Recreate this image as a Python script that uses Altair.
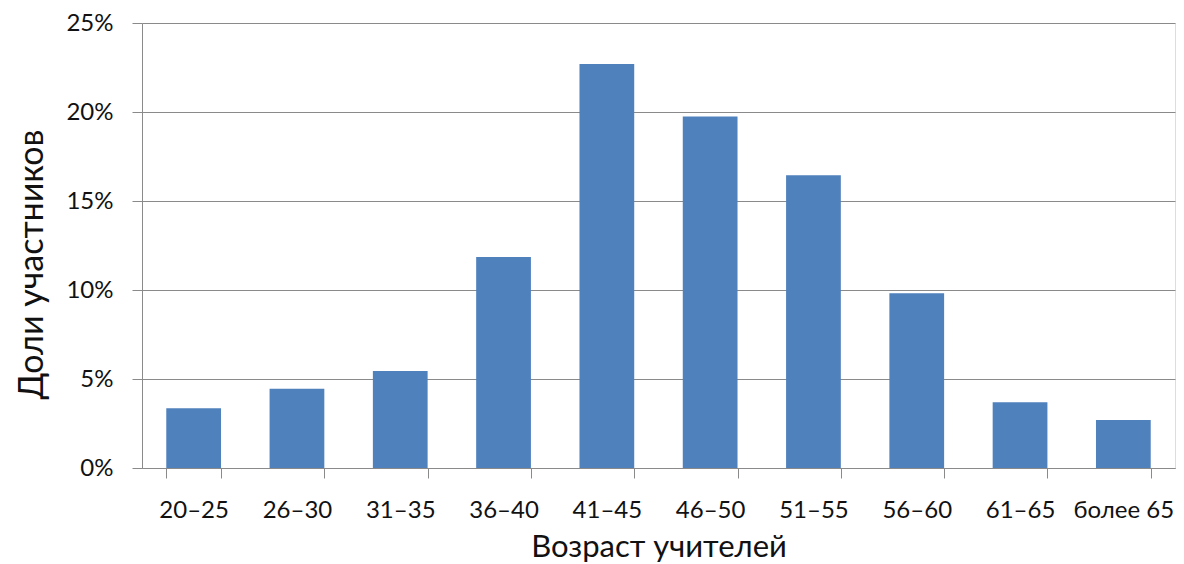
import altair as alt
import pandas as pd

categories = ["20–25", "26–30", "31–35", "36–40", "41–45", "46–50", "51–55", "56–60", "61–65", "более 65"]
shares = [0.0335, 0.0445, 0.0545, 0.1185, 0.2270, 0.1975, 0.1645, 0.0982, 0.0370, 0.0270]

df = pd.DataFrame({"cat": categories, "share": shares})

FONT = "Lato"
GRID = "#8a8a8a"

chart = alt.Chart(df).mark_bar(color="#4F81BD").encode(
    x=alt.X("cat:N", sort=categories,
            scale=alt.Scale(paddingInner=0.47, paddingOuter=0.235),
            axis=alt.Axis(title="Возраст учителей", labelAngle=0, tickBand="extent",
                          domainColor=GRID, tickColor=GRID, tickSize=10,
                          labelFont=FONT, labelFontSize=24, labelColor="#111",
                          labelPadding=20, titleFont=FONT, titleFontSize=31,
                          titleFontWeight="normal", titleColor="#111",
                          titleY=88, titleBaseline="alphabetic",
                          grid=False)),
    y=alt.Y("share:Q", scale=alt.Scale(domain=[0, 0.25]),
            axis=alt.Axis(title="Доли участников", format=".0%",
                          values=[0, 0.05, 0.10, 0.15, 0.20, 0.25],
                          domainColor=GRID, tickColor=GRID, tickSize=10,
                          gridColor=GRID, gridOpacity=1,
                          labelFont=FONT, labelFontSize=24, labelColor="#111",
                          labelPadding=19, titleFont=FONT, titleFontSize=34,
                          titleFontWeight="normal", titleColor="#111",
                          titleX=-110, titleY=241, titleAngle=-90,
                          titleAlign="center", titleBaseline="middle")),
).properties(
    width=1033, height=445,
    autosize=alt.AutoSizeParams(type="none"),
    padding={"left": 134, "top": 15, "right": 1, "bottom": 100},
).configure_view(stroke=None).configure(background="white")

chart.save("out.html", embed_options={"renderer": "svg", "actions": False})
